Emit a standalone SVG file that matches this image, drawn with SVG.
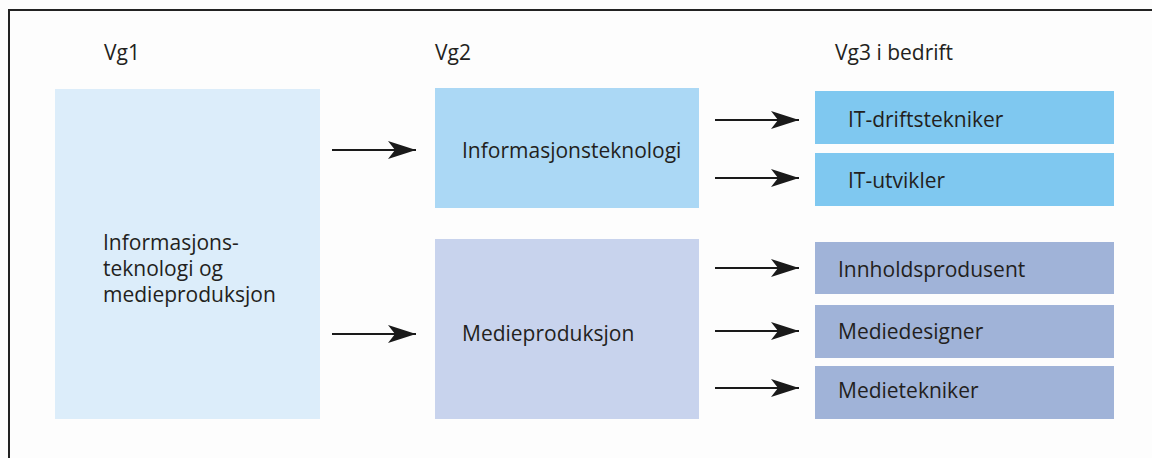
<svg xmlns="http://www.w3.org/2000/svg" width="1152" height="458" viewBox="0 0 1152 458">
<style>
.t{font-family:"Open Sans","Noto Sans","Liberation Sans",sans-serif;font-size:21px;fill:#231f20}
.c line{stroke:#1a1a1a;stroke-width:2}
</style>
<defs>
<marker id="ah" markerUnits="userSpaceOnUse" markerWidth="30" markerHeight="20" refX="28" refY="9" orient="auto">
<path d="M0,0 L28,9 L0,18 L7,9 Z" fill="#1a1a1a"/>
</marker>
</defs>
<rect x="0" y="0" width="1152" height="458" fill="#fdfdfd"/>
<rect x="9" y="10" width="1160" height="470" fill="none" stroke="#222" stroke-width="2"/>
<text class="t" x="104" y="60">Vg1</text>
<text class="t" x="435" y="60">Vg2</text>
<text class="t" x="835" y="60">Vg3 i bedrift</text>
<g id="vg1"><rect x="55" y="89" width="265" height="330" fill="#dcedfa"/>
<text class="t" x="103" y="250">Informasjons-</text><text class="t" x="103" y="276">teknologi og</text><text class="t" x="103" y="302">medieproduksjon</text></g>
<g id="it"><rect x="435" y="88" width="264" height="120" fill="#abd8f5"/><text class="t" x="462" y="158">Informasjonsteknologi</text></g>
<g id="mp"><rect x="435" y="239" width="264" height="180" fill="#c8d3ed"/><text class="t" x="462" y="341">Medieproduksjon</text></g>
<g id="itd"><rect x="815" y="91" width="299" height="53" fill="#7fc8f0"/><text class="t" x="848" y="127">IT-driftstekniker</text></g>
<g id="itu"><rect x="815" y="153" width="299" height="53" fill="#7fc8f0"/><text class="t" x="848" y="188">IT-utvikler</text></g>
<g id="inn"><rect x="815" y="242" width="299" height="52" fill="#a0b3d8"/><text class="t" x="838" y="277">Innholdsprodusent</text></g>
<g id="md"><rect x="815" y="305" width="299" height="53" fill="#a0b3d8"/><text class="t" x="838" y="339">Mediedesigner</text></g>
<g id="mt"><rect x="815" y="366" width="299" height="53" fill="#a0b3d8"/><text class="t" x="838" y="398">Medietekniker</text></g>
<g class="c" id="connectors">
<line x1="332" y1="150" x2="416" y2="150" marker-end="url(#ah)"/>
<line x1="332" y1="334" x2="416" y2="334" marker-end="url(#ah)"/>
<line x1="715" y1="120" x2="799" y2="120" marker-end="url(#ah)"/>
<line x1="715" y1="178" x2="799" y2="178" marker-end="url(#ah)"/>
<line x1="715" y1="268" x2="799" y2="268" marker-end="url(#ah)"/>
<line x1="715" y1="331" x2="799" y2="331" marker-end="url(#ah)"/>
<line x1="715" y1="388" x2="799" y2="388" marker-end="url(#ah)"/>
</g>
</svg>
